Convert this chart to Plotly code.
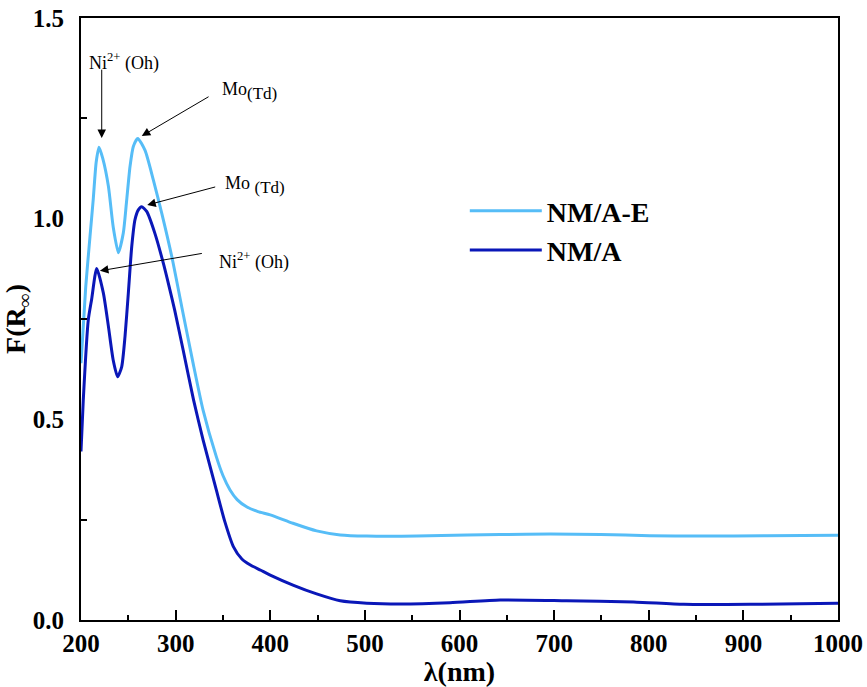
import plotly.graph_objects as go

# NM/A-E (light blue)
wl_e = [200, 205, 209.5, 213, 216, 219, 223, 229, 234, 239.5, 244.7, 248, 251.8, 255.3, 260, 267.7,
        276.5, 285.3, 296, 306.5, 318, 329, 343, 350, 357.5, 365, 375, 387, 400, 424, 449, 474, 502,
        555, 608, 643, 696, 749, 801, 854, 925, 1000]
f_e = [0.64, 0.83, 0.955, 1.05, 1.14, 1.178, 1.15, 1.08, 0.98, 0.915, 0.964, 1.039, 1.13, 1.18, 1.20, 1.17,
       1.096, 1.014, 0.905, 0.78, 0.645, 0.523, 0.407, 0.36, 0.324, 0.30, 0.282, 0.27, 0.262, 0.241, 0.222,
       0.212, 0.209, 0.209, 0.212, 0.213, 0.214, 0.213, 0.210, 0.209, 0.210, 0.211]

# NM/A (dark blue)
wl_a = [200, 202.4, 207.7, 211.3, 216.6, 223.6, 229, 234, 238.7, 243, 246.5, 250, 253.6, 257, 260.6, 264,
        269.4, 278, 287, 293, 299, 308, 319, 329, 343, 352, 361, 370, 379, 390, 400, 424, 449, 474, 502,
        537, 590, 643, 713, 784, 837, 907, 1000]
f_a = [0.42, 0.548, 0.748, 0.80, 0.876, 0.815, 0.731, 0.648, 0.606, 0.631, 0.706, 0.814, 0.930, 0.997, 1.022,
       1.03, 1.018, 0.964, 0.889, 0.832, 0.772, 0.672, 0.548, 0.449, 0.324, 0.245, 0.183, 0.152, 0.137, 0.124,
       0.112, 0.087, 0.065, 0.048, 0.042, 0.040, 0.043, 0.050, 0.048, 0.045, 0.039, 0.039, 0.042]

series_names = ["NM/A-E", "NM/A"]
series_colors = ["#56BDF7", "#0A17B8"]

x_ticks = [200, 300, 400, 500, 600, 700, 800, 900, 1000]
y_ticks = [0.0, 0.5, 1.0, 1.5]
y_ticklabels = ["0.0", "0.5", "1.0", "1.5"]

FONT = "Liberation Serif, Times New Roman, serif"

fig = go.Figure()
fig.add_trace(go.Scatter(x=wl_e, y=f_e, mode="lines", name=series_names[0],
                         line=dict(color=series_colors[0], width=3, shape="spline", smoothing=0.6)))
fig.add_trace(go.Scatter(x=wl_a, y=f_a, mode="lines", name=series_names[1],
                         line=dict(color=series_colors[1], width=3, shape="spline", smoothing=0.6)))

# arrows: (head_x, head_y, tail_x, tail_y)
arrows = [(221.9, 1.201, 221.9, 1.375),
          (264.2, 1.206, 336.4, 1.306),
          (270.0, 1.034, 343.4, 1.080),
          (220.0, 0.870, 329.3, 0.914)]
for hx, hy, tx, ty in arrows:
    fig.add_annotation(x=hx, y=hy, ax=tx, ay=ty, xref="x", yref="y", axref="x", ayref="y",
                       text="", showarrow=True, arrowhead=2, arrowsize=1.7, arrowwidth=1,
                       arrowcolor="black")

SUBFULL = "<span style='font-size:17px'>(Td)</span>"
labels = [(206, 1.39, "Ni<sup>2+</sup> (Oh)"),
          (347, 1.318, "Mo<sub>" + SUBFULL + "</sub>"),
          (350, 1.084, "Mo <sub>" + SUBFULL + "</sub>"),
          (343.4, 0.895, "Ni<sup>2+</sup> (Oh)")]
for lx, ly, t in labels:
    fig.add_annotation(x=lx, y=ly, xref="x", yref="y", text=t, showarrow=False,
                       xanchor="left", yanchor="middle",
                       font=dict(family=FONT, size=18, color="black"))

fig.update_layout(
    width=867, height=687,
    margin=dict(l=81, r=29, t=18, b=67, autoexpand=False),
    paper_bgcolor="white", plot_bgcolor="white",
    font=dict(family=FONT, color="black"),
    showlegend=True,
    legend=dict(x=0.507, y=0.721, xanchor="left", yanchor="top",
                font=dict(family=FONT, size=28, color="black", weight="bold"),
                bgcolor="rgba(0,0,0,0)", itemwidth=72, tracegroupgap=0),
)

fig.update_xaxes(range=[200, 1000], tickvals=x_ticks, ticktext=[str(v) for v in x_ticks],
                 ticks="inside", ticklen=10, tickwidth=2, tickcolor="black",
                 minor=dict(dtick=50, tick0=200, ticks="inside", ticklen=5, tickwidth=2, tickcolor="black"),
                 showline=True, linewidth=2, linecolor="black", mirror=True,
                 showgrid=False, zeroline=False, automargin=False,
                 tickfont=dict(family=FONT, size=25, color="black", weight="bold"),
                 title=dict(text="λ(nm)", font=dict(family=FONT, size=28, color="black", weight="bold"),
                            standoff=6))

fig.update_yaxes(range=[0, 1.5], tickvals=y_ticks, ticktext=y_ticklabels,
                 ticks="", ticklabelstandoff=10,
                 minor=dict(tickvals=[0.25, 0.75, 1.25], ticks="inside", ticklen=6, tickwidth=2, tickcolor="black"),
                 showline=True, linewidth=2, linecolor="black", mirror=True,
                 showgrid=False, zeroline=False, automargin=False,
                 tickfont=dict(family=FONT, size=25, color="black", weight="bold"),
                 title=dict(text="F(R<sub>∞</sub>)", font=dict(family=FONT, size=28, color="black", weight="bold"),
                            standoff=8))

fig.write_html("out.html", config={"displayModeBar": False},
               post_script="document.body.style.margin='0';")
